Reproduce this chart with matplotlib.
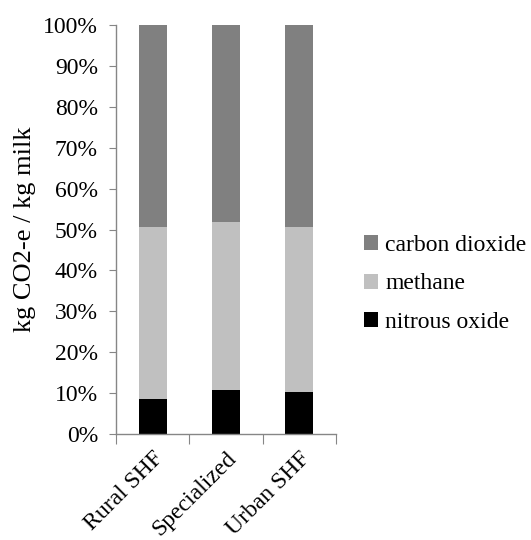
import matplotlib
matplotlib.use("Agg")
import matplotlib.pyplot as plt
import matplotlib.transforms as mtransforms
import numpy as np

categories = ["Rural SHF", "Specialized", "Urban SHF"]
nitrous_oxide = [8.5, 10.8, 10.3]
methane = [42.2, 41.1, 40.2]
carbon_dioxide = [100 - a - b for a, b in zip(nitrous_oxide, methane)]
yticks = list(range(0, 101, 10))

plt.rcParams['font.family'] = ['Liberation Serif', 'DejaVu Serif']
FS = 17

fig = plt.figure(figsize=(5.31, 5.40), dpi=100)
ax = fig.add_axes([116/531, 1-434/540, (336-116)/531, (434-25)/540])

x = np.arange(len(categories))
w = 0.38
ax.bar(x, nitrous_oxide, w, color="#000000", label="nitrous oxide")
ax.bar(x, methane, w, bottom=nitrous_oxide, color="#c0c0c0", label="methane")
bottom2 = [a + b for a, b in zip(nitrous_oxide, methane)]
ax.bar(x, carbon_dioxide, w, bottom=bottom2, color="#808080", label="carbon dioxide")

ax.set_xlim(-0.5, 2.5)
ax.set_ylim(0, 100)
ax.set_yticks(yticks)
ax.set_yticklabels([f"{t}%" for t in yticks], fontsize=FS)
ax.set_xticks([-0.5, 0.5, 1.5, 2.5])
ax.set_xticklabels([])
ax.set_xticks(x, minor=True)
ax.set_xticklabels(categories, minor=True, rotation=45, ha='right',
                   rotation_mode='anchor', fontsize=FS)
offset = mtransforms.ScaledTranslation(-6/100, 0, fig.dpi_scale_trans)
for lab in ax.get_xticklabels(minor=True):
    lab.set_transform(lab.get_transform() + offset)
ax.tick_params(axis='x', which='minor', length=0, pad=10)
ax.tick_params(axis='x', which='major', length=7, color="#868686", direction='out')
ax.tick_params(axis='y', length=5, color="#868686", direction='out', pad=8)
for s in ['top', 'right']:
    ax.spines[s].set_visible(False)
for s in ['left', 'bottom']:
    ax.spines[s].set_color("#868686")
    ax.spines[s].set_linewidth(1)

ax.set_ylabel("kg CO2-e / kg milk", fontsize=19, labelpad=5)

handles, labels = ax.get_legend_handles_labels()
leg = fig.legend(handles[::-1], labels[::-1], loc='center left',
                 bbox_to_anchor=(364/531, 1-284/540), frameon=False,
                 borderaxespad=0, borderpad=0,
                 fontsize=FS, handlelength=0.6, handleheight=0.6,
                 handletextpad=0.3, labelspacing=0.75)

fig.savefig("out.png", dpi=100)
